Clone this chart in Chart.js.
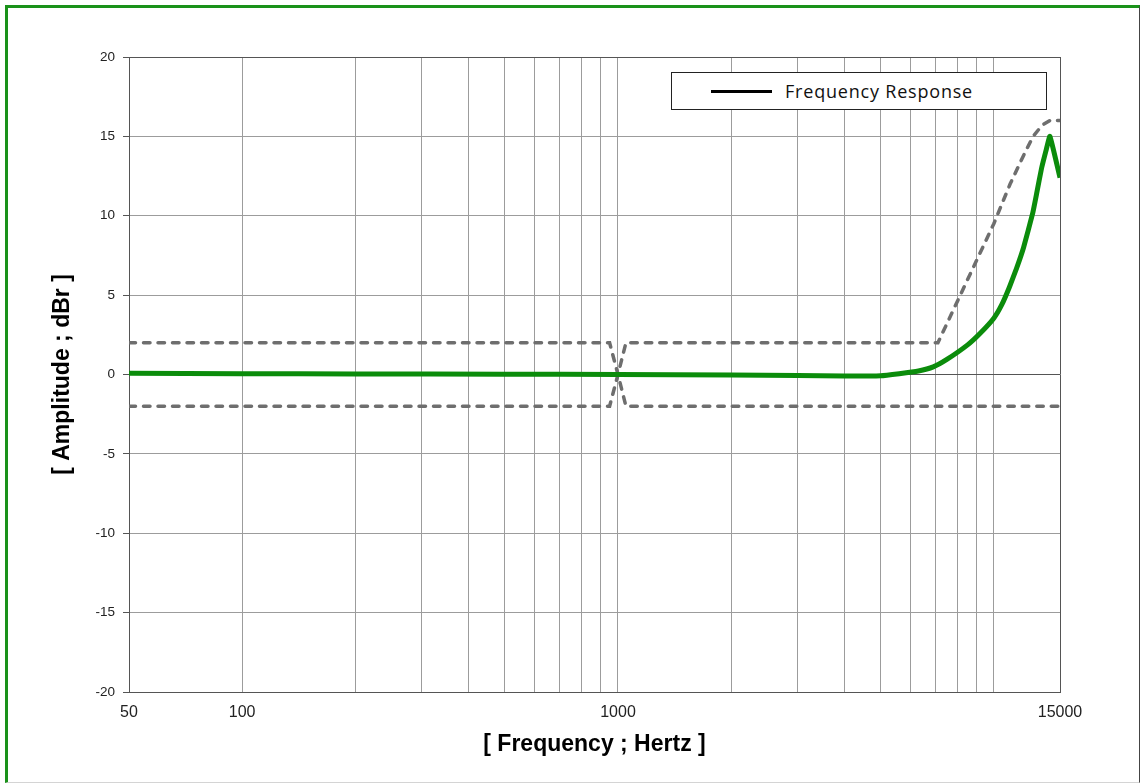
<!DOCTYPE html>
<html>
<head>
<meta charset="utf-8">
<script src="https://cdn.jsdelivr.net/npm/chart.js@4.4.1/dist/chart.umd.min.js"></script>
<style>
  html, body { margin: 0; padding: 0; background: #ffffff; }
  #wrap { position: relative; width: 1140px; height: 783px; overflow: hidden; background: #fff; }
  #frame { position: absolute; left: 5px; top: 5px; width: 1135px; height: 778px; box-sizing: border-box;
           border-top: 3px solid #1a921a; border-left: 3px solid #1a921a;
           border-right: 1px solid #444; border-bottom: 1px solid #d4d4d4; }
  #chart { position: absolute; left: 0; top: 0; }
  #legend { position: absolute; left: 671px; top: 72px; width: 376px; height: 38px; box-sizing: border-box;
            border: 1px solid #222; background: #fff; }
  #legend .swatch { position: absolute; left: 39px; top: 17px; width: 61px; height: 3px; background: #000; }
  #legend .label { position: absolute; left: 113px; top: 0; height: 36px; line-height: 36px;
                   font-family: "Open Sans", sans-serif; font-size: 18px; color: #111; letter-spacing: 0.8px; white-space: nowrap; }
</style>
</head>
<body>
<div id="wrap">
  <div id="frame"></div>
  <canvas id="chart" width="1140" height="783"></canvas>
  <div id="legend"><div class="swatch"></div><div class="label">Frequency Response</div></div>
</div>
<script>
// ---- Data ----
const respFreq = [50, 100, 200, 500, 1000, 2000, 3000, 4000, 5000, 5600, 6300, 6900, 7500, 8500, 9200, 10000, 10500, 11000, 11500, 12000, 12700, 13000, 13400, 13800, 14100, 15000];
const respDb   = [0.08, 0.05, 0.03, 0.02, 0.0, -0.03, -0.06, -0.1, -0.08, 0.05, 0.22, 0.48, 0.95, 1.85, 2.6, 3.55, 4.4, 5.5, 6.7, 8.0, 10.2, 11.4, 13.0, 14.2, 15.0, 12.4];

const upperFreq = [50, 950, 1000, 1050, 7100, 10000, 11050, 12000, 12720, 13440, 14100, 15000];
const upperDb   = [2, 2, 0, 2, 2, 9.5, 12.0, 13.8, 15.0, 15.7, 16.0, 16.0];

const lowerFreq = [50, 950, 1000, 1050, 15000];
const lowerDb   = [-2, -2, 0, -2, -2];

const xGridValues = [50, 100, 200, 300, 400, 500, 600, 700, 800, 900, 1000, 2000, 3000, 4000, 5000, 6000, 7000, 8000, 9000, 10000, 15000];
const xTickLabels = [50, 100, 1000, 15000];
const yMin = -20, yMax = 20, yStep = 5;

const toXY = (xs, ys) => xs.map((x, i) => ({ x: x, y: ys[i] }));

const GRID = '#9c9c9c';
const AXIS = '#555555';

new Chart(document.getElementById('chart').getContext('2d'), {
  type: 'line',
  data: {
    datasets: [
      { label: 'Frequency Response', data: toXY(respFreq, respDb), borderColor: '#0b8c0b', borderWidth: 5,
        pointRadius: 0, tension: 0.12, borderJoinStyle: 'miter', order: 0 },
      { label: 'Upper limit', data: toXY(upperFreq, upperDb), borderColor: '#6e6e6e', borderWidth: 3.5,
        borderDash: [6.5, 8], borderCapStyle: 'round', pointRadius: 0, tension: 0, order: 1 },
      { label: 'Lower limit', data: toXY(lowerFreq, lowerDb), borderColor: '#6e6e6e', borderWidth: 3.5,
        borderDash: [6.5, 8], borderCapStyle: 'round', pointRadius: 0, tension: 0, order: 1 }
    ]
  },
  options: {
    responsive: false,
    animation: false,
    devicePixelRatio: 1,
    layout: { padding: { left: 0, top: 57, right: 80, bottom: 0 } },
    plugins: { legend: { display: false }, tooltip: { enabled: false } },
    scales: {
      x: {
        type: 'logarithmic', min: 50, max: 15000,
        afterBuildTicks: (s) => { s.ticks = xGridValues.map(v => ({ value: v })); },
        afterFit: (s) => { s.height = 91; },
        ticks: {
          autoSkip: false, maxRotation: 0, minRotation: 0, padding: 11, color: '#222',
          font: { family: '"Liberation Sans", Arial, sans-serif', size: 16 },
          callback: (v) => xTickLabels.includes(v) ? String(v) : ''
        },
        grid: { color: (c) => (c.tick && c.tick.value === 15000) ? AXIS : GRID, drawTicks: false, lineWidth: 1 },
        border: { display: true, color: AXIS, width: 1 },
        title: { display: true, text: '[ Frequency ; Hertz ]', color: '#000',
                 font: { family: '"Liberation Sans", Arial, sans-serif', size: 23, weight: 'bold' },
                 padding: { top: 0, bottom: 25 } }
      },
      y: {
        min: yMin, max: yMax,
        afterFit: (s) => { s.width = 129; },
        ticks: { stepSize: yStep, padding: 8, color: '#222',
                 font: { family: '"Liberation Sans", Arial, sans-serif', size: 13.5 } },
        grid: { color: (c) => (c.tick && (c.tick.value === 0 || c.tick.value === yMax)) ? AXIS : GRID,
                tickColor: AXIS, tickLength: 6, lineWidth: 1 },
        border: { display: true, color: AXIS, width: 1 },
        title: { display: true, text: '[ Amplitude ; dBr ]', color: '#000',
                 font: { family: '"Liberation Sans", Arial, sans-serif', size: 23, weight: 'bold' },
                 padding: { top: 49, bottom: 0 } }
      }
    }
  }
});
</script>
</body>
</html>
